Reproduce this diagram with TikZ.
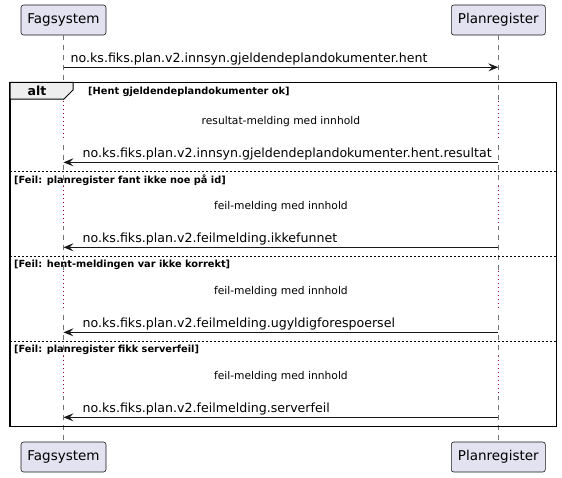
\documentclass[tikz,border=0pt]{standalone}
\usepackage{fontspec}
\setmainfont{DejaVu Sans}
\usepackage{tikz}
\usetikzlibrary{calc, positioning, arrows.meta}
\definecolor{partfill}{HTML}{E2E2F0}
\definecolor{partline}{HTML}{181818}
\definecolor{delayred}{HTML}{A80036}
\definecolor{tabfill}{HTML}{EEEEEE}
\tikzset{
    participant/.style={rectangle, draw=partline, fill=partfill, rounded corners=2.5pt, minimum height=30pt, line width=0.6pt, font=\fontsize{13.5}{16}\selectfont},
    lifeline/.style={draw=gray!90!black, dash pattern=on 5pt off 5pt, line width=0.6pt},
    delayline/.style={draw=delayred, dash pattern=on 1pt off 3pt, line width=0.9pt},
    msg/.style={-{Stealth[length=10pt, width=8pt, inset=4pt]}, draw=partline, line width=0.8pt},
    msglabel/.style={font=\fontsize{12.6}{15}\selectfont, anchor=base west, inner sep=0pt},
    guard/.style={font=\bfseries\fontsize{9.8}{12}\selectfont, anchor=west, inner sep=0pt},
    delaytext/.style={font=\fontsize{10.7}{13}\selectfont, inner sep=0pt},
    frame/.style={draw=black, line width=1.5pt},
    tab/.style={draw=black, line width=1pt, fill=tabfill},
    separator/.style={draw=black, dash pattern=on 2pt off 2pt, line width=0.6pt}
}

\begin{document}
\begin{tikzpicture}[x=1pt, y=-1pt]
    \useasboundingbox (0,0) rectangle (562,477);

    % Participants
    \node[participant, minimum width=85pt] (fagTop) at (63.5,20) {Fagsystem};
    \node[participant, minimum width=94pt] (planTop) at (498.3,20) {Planregister};
    \node[participant, minimum width=85pt] (fagBot) at (63.5,457) {Fagsystem};
    \node[participant, minimum width=94pt] (planBot) at (498.3,457) {Planregister};

    % Lifelines
    \draw[lifeline] (fagTop) -- (fagBot);
    \draw[lifeline] (planTop) -- (planBot);

    % Request
    \coordinate (reqF) at (63.5,67.3);
    \coordinate (reqP) at (498.3,67.3);
    \draw[msg] (reqF) -- (reqP);
    \node[msglabel] (reqLabel) at ($(reqF)+(7,-5)$) {no.ks.fiks.plan.v2.innsyn.gjeldendeplandokumenter.hent};

    % Alt frame
    \draw[frame] (10,82.3) rectangle (556.3,426.7);
    \draw[tab] (10,82.3) -- (73,82.3) -- (73,90) -- (64,99) -- (10,99) -- cycle;
    \node[font=\bfseries\fontsize{12.5}{15}\selectfont] (altTag) at (37,90.5) {alt};
    \node[guard] (guardOk) at (88,91.5) {[Hent gjeldendeplandokumenter ok]};

    % Separators
    \foreach \y/\g [count=\k] in {171.3/{[Feil: planregister fant ikke noe på id]},
                                  256.3/{[Feil: hent-meldingen var ikke korrekt]},
                                  341.3/{[Feil: planregister fikk serverfeil]}}{
        \draw[separator] (10,\y) -- (556.3,\y);
        \node[guard] (guardFeil\k) at (14,\y+8.5) {\g};
    }

    % Replies
    \foreach \y/\txt/\reply [count=\k] in {
        162.3/{resultat-melding med innhold}/{no.ks.fiks.plan.v2.innsyn.gjeldendeplandokumenter.hent.resultat},
        247.3/{feil-melding med innhold}/{no.ks.fiks.plan.v2.feilmelding.ikkefunnet},
        332.3/{feil-melding med innhold}/{no.ks.fiks.plan.v2.feilmelding.ugyldigforespoersel},
        417.3/{feil-melding med innhold}/{no.ks.fiks.plan.v2.feilmelding.serverfeil}}{
        % delay
        \coordinate (delayFa\k) at (63.5,\y-61);
        \coordinate (delayFb\k) at (63.5,\y-21);
        \coordinate (delayPa\k) at (498.3,\y-61);
        \coordinate (delayPb\k) at (498.3,\y-21);
        \draw[white, line width=2pt] (delayFa\k) -- (delayFb\k) (delayPa\k) -- (delayPb\k);
        \draw[delayline] (delayFa\k) -- (delayFb\k) (delayPa\k) -- (delayPb\k);
        \node[delaytext] (delay\k) at (280.9,\y-41) {\txt};
        % message
        \coordinate (replyP\k) at (498.3,\y);
        \coordinate (replyF\k) at (63.5,\y);
        \draw[msg] (replyP\k) -- (replyF\k);
        \node[msglabel] (replyLabel\k) at ($(replyF\k)+(19,-5)$) {\reply};
    }
\end{tikzpicture}
\end{document}
